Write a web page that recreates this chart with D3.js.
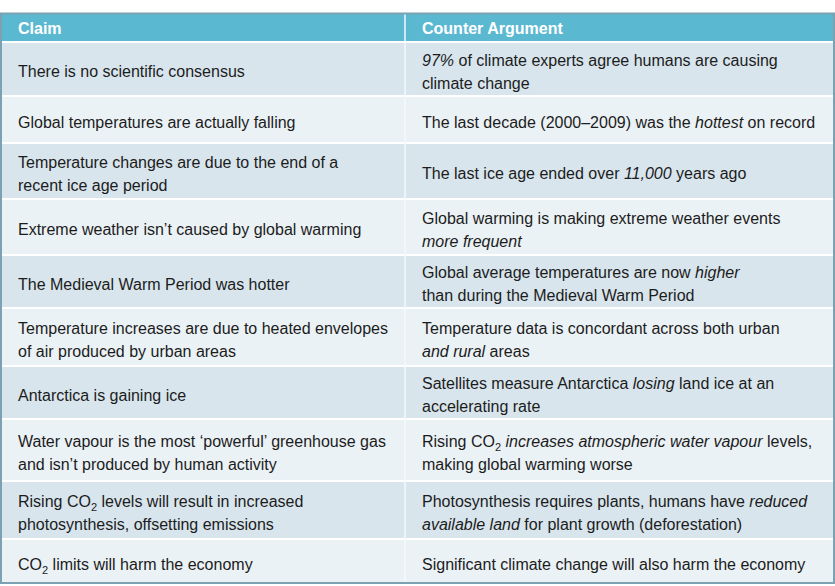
<!DOCTYPE html>
<html>
<head>
<meta charset="utf-8">
<script src="https://cdn.jsdelivr.net/npm/d3@7"></script>
<style>
  body { margin: 0; background: #fff; }
  svg text { font-family: "Liberation Sans", Arial, Helvetica, sans-serif; }
</style>
</head>
<body>
<svg id="chart" width="835" height="586"></svg>
<script>
// table content: "|" = line break, *...* = italic, _2 = subscript 2
var headers = ["Claim", "Counter Argument"];

var claims = [
  "There is no scientific consensus",
  "Global temperatures are actually falling",
  "Temperature changes are due to the end of a|recent ice age period",
  "Extreme weather isn’t caused by global warming",
  "The Medieval Warm Period was hotter",
  "Temperature increases are due to heated envelopes|of air produced by urban areas",
  "Antarctica is gaining ice",
  "Water vapour is the most ‘powerful’ greenhouse gas|and isn’t produced by human activity",
  "Rising CO_2 levels will result in increased|photosynthesis, offsetting emissions",
  "CO_2 limits will harm the economy"
];

var counters = [
  "*97%* of climate experts agree humans are causing|climate change",
  "The last decade (2000–2009) was the *hottest* on record",
  "The last ice age ended over *11,000* years ago",
  "Global warming is making extreme weather events|*more frequent*",
  "Global average temperatures are now *higher*|than during the Medieval Warm Period",
  "Temperature data is concordant across both urban|*and rural* areas",
  "Satellites measure Antarctica *losing* land ice at an|accelerating rate",
  "Rising CO_2 *increases atmospheric water vapour* levels,|making global warming worse",
  "Photosynthesis requires plants, humans have *reduced*|*available land* for plant growth (deforestation)",
  "Significant climate change will also harm the economy"
];

// layout
var left = 1, right = 834, split = 405;
var headTop = 13.5, headBottom = 41;
var rowEdges = [43, 97, 144, 200, 256, 309, 367, 420, 482, 540, 583];
var lineH = 23, padX = 17;

var svg = d3.select("#chart");

var rows = claims.map(function(c, i) {
  return { claim: c, counter: counters[i], y0: rowEdges[i], y1: rowEdges[i + 1] - (i < claims.length - 1 ? 2 : 0), i: i };
});

var x = d3.scaleOrdinal().domain([0, 1]).range([left, split]);

// outer background (white gaps between rows)
svg.append("rect")
  .attr("x", left).attr("y", headTop)
  .attr("width", right - left).attr("height", rowEdges[rowEdges.length - 1] - headTop)
  .attr("fill", "#ffffff");

// header
svg.append("rect")
  .attr("x", left).attr("y", headTop)
  .attr("width", right - left).attr("height", headBottom - headTop)
  .attr("fill", "#5bb8d1");

svg.selectAll("text.head")
  .data(headers)
  .join("text")
  .attr("class", "head")
  .attr("x", function(d, i) { return x(i) + padX; })
  .attr("y", (headTop + headBottom) / 2 + 6.5)
  .attr("fill", "#ffffff")
  .attr("font-weight", "bold")
  .attr("font-size", 16)
  .text(function(d) { return d; });

// body rows
var g = svg.selectAll("g.row")
  .data(rows)
  .join("g")
  .attr("class", "row");

g.append("rect")
  .attr("x", left)
  .attr("y", function(d) { return d.y0; })
  .attr("width", right - left)
  .attr("height", function(d) { return d.y1 - d.y0; })
  .attr("fill", function(d) { return d.i % 2 === 0 ? "#d8e5ed" : "#ebf2f6"; });

function writeCell(sel, str, col, d) {
  var lines = str.split("|");
  var cy = (d.y0 + d.y1) / 2 + 8;
  lines.forEach(function(line, li) {
    var t = sel.append("text")
      .attr("x", x(col) + padX)
      .attr("y", cy + (li - (lines.length - 1) / 2) * lineH)
      .attr("font-size", 16)
      .attr("fill", "#1c1c1c");
    var parts = line.split(/(\*[^*]+\*|_2)/).filter(function(p) { return p.length; });
    var shift = 0;
    parts.forEach(function(p) {
      var ts;
      if (p === "_2") {
        ts = t.append("tspan").attr("font-size", 11).attr("dy", 4).text("2");
        shift = -4;
        return;
      } else if (p[0] === "*") {
        ts = t.append("tspan").attr("font-style", "italic").text(p.slice(1, -1));
      } else {
        ts = t.append("tspan").text(p);
      }
      if (shift) { ts.attr("dy", shift); shift = 0; }
    });
  });
}

g.each(function(d) {
  var sel = d3.select(this);
  writeCell(sel, d.claim, 0, d);
  writeCell(sel, d.counter, 1, d);
});

// column divider
svg.append("line")
  .attr("x1", split).attr("x2", split)
  .attr("y1", headTop).attr("y2", rowEdges[rowEdges.length - 1])
  .attr("stroke", "#f4f8fa")
  .attr("stroke-width", 1.5);

// outer border
svg.append("rect")
  .attr("x", left).attr("y", headTop)
  .attr("width", right - left).attr("height", rowEdges[rowEdges.length - 1] - headTop)
  .attr("fill", "none")
  .attr("stroke", "#7aa2b2")
  .attr("stroke-width", 2);
</script>
</body>
</html>
